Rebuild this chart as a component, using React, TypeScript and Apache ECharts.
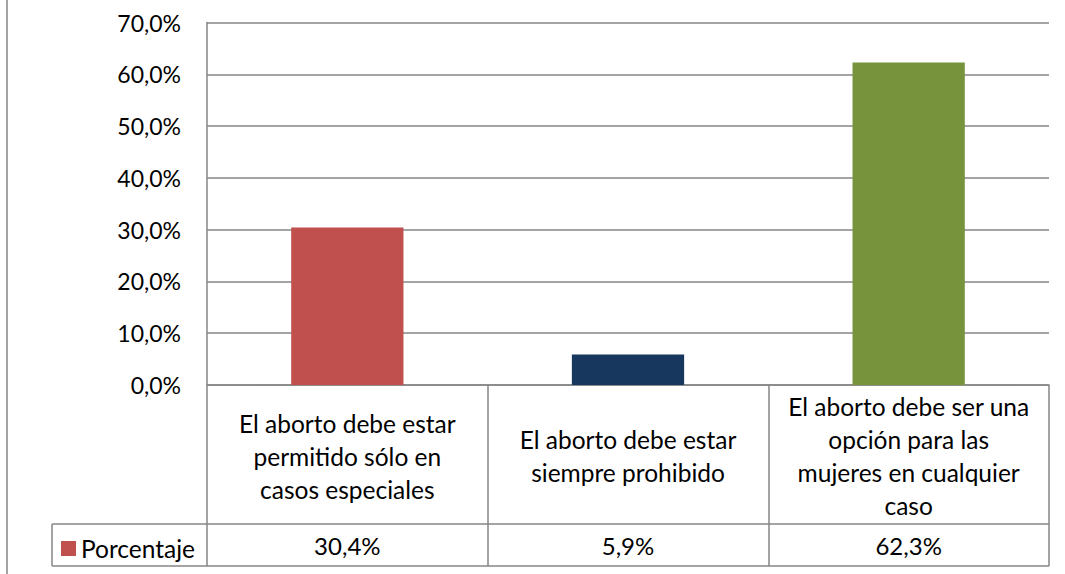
import React, { useEffect, useRef } from "react";
import * as echarts from "echarts";

const categories = [
  "El aborto debe estar\npermitido sólo en\ncasos especiales",
  "El aborto debe estar\nsiempre prohibido",
  "El aborto debe ser una\nopción para las\nmujeres en cualquier\ncaso",
];
const values = [30.4, 5.9, 62.3];
const barColors = ["#C0504D", "#17375E", "#77933C"];
const seriesName = "Porcentaje";
const yMin = 0;
const yMax = 70;
const yInterval = 10;

const FONT = "Lato";
const GRAY = "#868686";

const fmt = (v: number) => v.toFixed(1).replace(".", ",") + "%";

export default function App() {
  const ref = useRef<HTMLDivElement>(null);
  useEffect(() => {
    document.body.style.margin = "0";
    const chart = echarts.init(ref.current!, undefined, { renderer: "svg" });
    const gridLeft = 207;
    const gridRight = 1049;
    const axisY = 385;
    const rowY = 524;
    const bottomY = 566;
    chart.setOption({
      animation: false,
      textStyle: { fontFamily: FONT },
      grid: { left: gridLeft, right: 1065 - gridRight, top: 22.5, bottom: 574 - axisY },
      legend: {
        data: [seriesName],
        left: 56,
        top: 531,
        icon: "rect",
        itemWidth: 15,
        itemHeight: 15,
        itemGap: 6,
        textStyle: { fontFamily: FONT, fontSize: 24.5, color: "#000" },
      },
      xAxis: [
        {
          type: "category",
          data: categories,
          position: "bottom",
          axisLine: { show: true, lineStyle: { color: GRAY, width: 1.5 } },
          axisTick: { show: true, length: bottomY - axisY, lineStyle: { color: GRAY, width: 1.5 } },
          axisLabel: {
            interval: 0,
            margin: 71,
            verticalAlign: "middle",
            fontFamily: FONT,
            fontSize: 24.5,
            lineHeight: 33,
            color: "#000",
            align: "center",
          },
        },
        {
          type: "category",
          data: categories,
          position: "bottom",
          axisLine: { show: false },
          axisTick: { show: false },
          axisLabel: {
            interval: 0,
            margin: 160,
            verticalAlign: "middle",
            fontFamily: FONT,
            fontSize: 24,
            color: "#000",
            formatter: (_: string, i: number) => fmt(values[i]),
          },
        },
      ],
      yAxis: {
        type: "value",
        min: yMin,
        max: yMax,
        interval: yInterval,
        axisLine: { show: true, lineStyle: { color: GRAY, width: 1.5 } },
        axisTick: { show: false },
        splitLine: { lineStyle: { color: GRAY, width: 1.5 } },
        axisLabel: {
          margin: 26,
          fontFamily: FONT,
          fontSize: 23,
          color: "#000",
          formatter: (v: number) => fmt(v),
        },
      },
      series: [
        {
          name: seriesName,
          type: "bar",
          xAxisIndex: 0,
          barWidth: "40%",
          itemStyle: { color: barColors[0] },
          data: values.map((v, i) => ({ value: v, itemStyle: { color: barColors[i] } })),
        },
      ],
      graphic: [
        { type: "line", shape: { x1: 7, y1: 0, x2: 7, y2: 574 }, style: { stroke: GRAY, lineWidth: 1.5 } },
        { type: "line", shape: { x1: 52, y1: rowY, x2: gridRight, y2: rowY }, style: { stroke: GRAY, lineWidth: 1.5 } },
        { type: "line", shape: { x1: 52, y1: bottomY, x2: gridRight, y2: bottomY }, style: { stroke: GRAY, lineWidth: 1.5 } },
        { type: "line", shape: { x1: 52, y1: rowY, x2: 52, y2: bottomY }, style: { stroke: GRAY, lineWidth: 1.5 } },
      ],
    });
    return () => chart.dispose();
  }, []);
  return <div ref={ref} style={{ width: 1065, height: 574 }} />;
}
